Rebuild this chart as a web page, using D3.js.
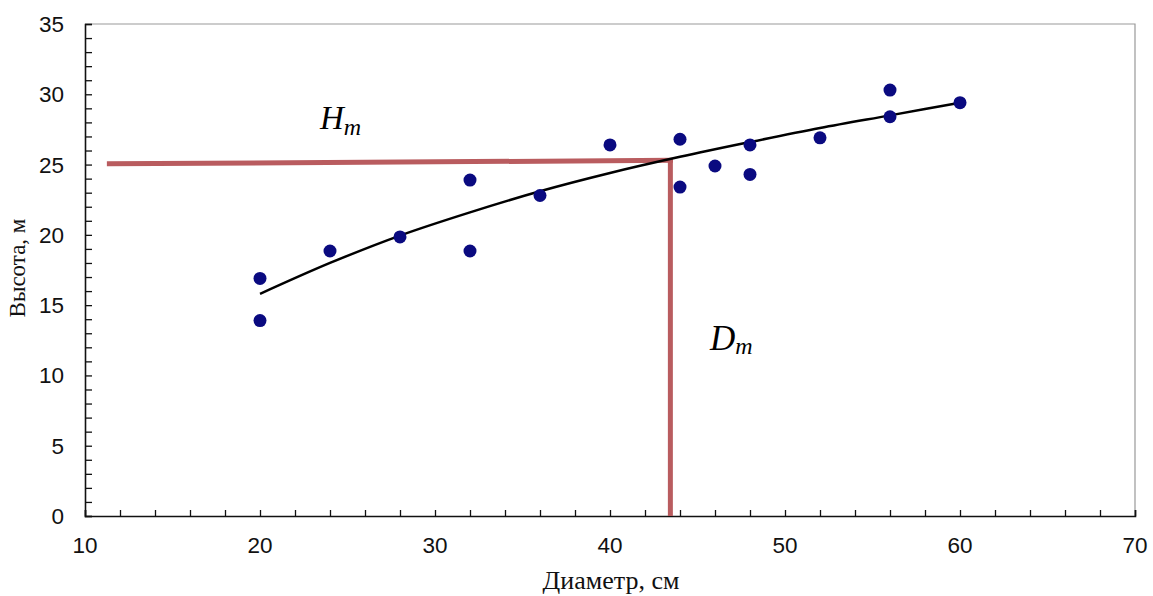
<html lang="ru">

<head>
  <meta charset="utf-8">
  <title>Высота и диаметр</title>
  <script src="https://d3js.org/d3.v7.min.js"></script>
  <style>
    body { margin: 0; background: #fff; }
    .tick-label { font-family: Arial, "Liberation Sans", sans-serif; font-size: 22.5px; fill: #111; }
    .title { font-family: "Times New Roman", "Liberation Serif", serif; fill: #111; }
    .mark { font-family: "Times New Roman", "Liberation Serif", serif; font-style: italic; fill: #000; }
  </style>
</head>

<body>
  <svg width="1153" height="596"></svg>
  <script>
    // measured trees: diameter (cm) and height (m)
    const diameters = [20, 20, 24, 28, 32, 32, 36, 40, 44, 44, 46, 48, 48, 52, 56, 56, 60];
    const heights = [16.9, 13.9, 18.85, 19.85, 23.9, 18.85, 22.8, 26.4, 26.8, 23.4, 24.9, 26.4, 24.3, 26.9, 30.3, 28.4, 29.4];

    // trend curve
    const trendX = [20, 24, 28, 32, 36, 40, 44, 48, 52, 56, 60];
    const trendY = [15.8, 18.0, 19.95, 21.6, 23.1, 24.4, 25.55, 26.6, 27.6, 28.5, 29.4];

    // mean-tree guide lines
    const hmLineX = [11.25, 43.6];
    const hmLineY = [25.05, 25.3];
    const dmLineX = [43.45, 43.45];
    const dmLineY = [25.3, 0];

    const xTicks = [10, 20, 30, 40, 50, 60, 70];
    const yTicks = [0, 5, 10, 15, 20, 25, 30, 35];

    const svg = d3.select("svg");
    const mLeft = 85, mRight = 1135, mTop = 24, mBottom = 516;

    const x = d3.scaleLinear().domain([10, 70]).range([mLeft, mRight]);
    const y = d3.scaleLinear().domain([0, 35]).range([mBottom, mTop]);

    // plot frame (top and right in grey)
    svg.append("path")
      .attr("d", `M${mLeft},${mTop}H${mRight}V${mBottom}`)
      .attr("fill", "none")
      .attr("stroke", "#999")
      .attr("stroke-width", 1.2);

    // x axis with inward ticks every 2 cm
    const xAxis = svg.append("g")
      .attr("transform", `translate(0,${mBottom})`)
      .call(d3.axisBottom(x).tickValues(d3.range(10, 71, 2)).tickSize(-6).tickFormat(""));
    xAxis.select(".domain").attr("stroke", "#111").attr("stroke-width", 1.6);
    xAxis.selectAll(".tick line").attr("stroke", "#111").attr("stroke-width", 1.3);

    // y axis with inward ticks every 1 m
    const yAxis = svg.append("g")
      .attr("transform", `translate(${mLeft},0)`)
      .call(d3.axisLeft(y).tickValues(d3.range(0, 36, 1)).tickSize(-7).tickFormat(""));
    yAxis.select(".domain").attr("stroke", "#111").attr("stroke-width", 1.6);
    yAxis.selectAll(".tick line").attr("stroke", "#111").attr("stroke-width", 1.3);

    svg.append("g").selectAll("text")
      .data(xTicks)
      .enter()
      .append("text")
      .attr("class", "tick-label")
      .attr("x", d => x(d))
      .attr("y", 553)
      .attr("text-anchor", "middle")
      .text(d => d);

    svg.append("g").selectAll("text")
      .data(yTicks)
      .enter()
      .append("text")
      .attr("class", "tick-label")
      .attr("x", 64)
      .attr("y", d => y(d) + 8)
      .attr("text-anchor", "end")
      .text(d => d);

    svg.append("text")
      .attr("class", "title")
      .attr("x", 611)
      .attr("y", 589)
      .attr("text-anchor", "middle")
      .attr("font-size", 26)
      .text("Диаметр, см");

    svg.append("text")
      .attr("class", "title")
      .attr("transform", "translate(25,268) rotate(-90)")
      .attr("text-anchor", "middle")
      .attr("font-size", 23)
      .text("Высота, м");

    // guide lines
    const guide = d3.line().x(d => x(d[0])).y(d => y(d[1]));
    svg.append("path")
      .attr("d", guide(d3.zip(hmLineX, hmLineY)))
      .attr("fill", "none")
      .attr("stroke", "#b95c5f")
      .attr("stroke-width", 5);
    svg.append("path")
      .attr("d", guide(d3.zip(dmLineX, dmLineY)))
      .attr("fill", "none")
      .attr("stroke", "#b95c5f")
      .attr("stroke-width", 5);

    // trend
    const trend = d3.line()
      .x(d => x(d[0]))
      .y(d => y(d[1]))
      .curve(d3.curveMonotoneX);
    svg.append("path")
      .attr("d", trend(d3.zip(trendX, trendY)))
      .attr("fill", "none")
      .attr("stroke", "#000")
      .attr("stroke-width", 2.5);

    // points
    svg.append("g").selectAll("circle")
      .data(d3.zip(diameters, heights))
      .enter()
      .append("circle")
      .attr("cx", d => x(d[0]))
      .attr("cy", d => y(d[1]))
      .attr("r", 6.5)
      .attr("fill", "#0a0a80");

    // labels for mean height and diameter
    const hm = svg.append("text").attr("class", "mark").attr("x", 320).attr("y", 129);
    hm.append("tspan").attr("font-size", 33).text("H");
    hm.append("tspan").attr("font-size", 24).attr("dy", 6).text("m");

    const dm = svg.append("text").attr("class", "mark").attr("x", 710).attr("y", 350);
    dm.append("tspan").attr("font-size", 35).text("D");
    dm.append("tspan").attr("font-size", 24).attr("dy", 4).text("m");
  </script>
</body>

</html>
